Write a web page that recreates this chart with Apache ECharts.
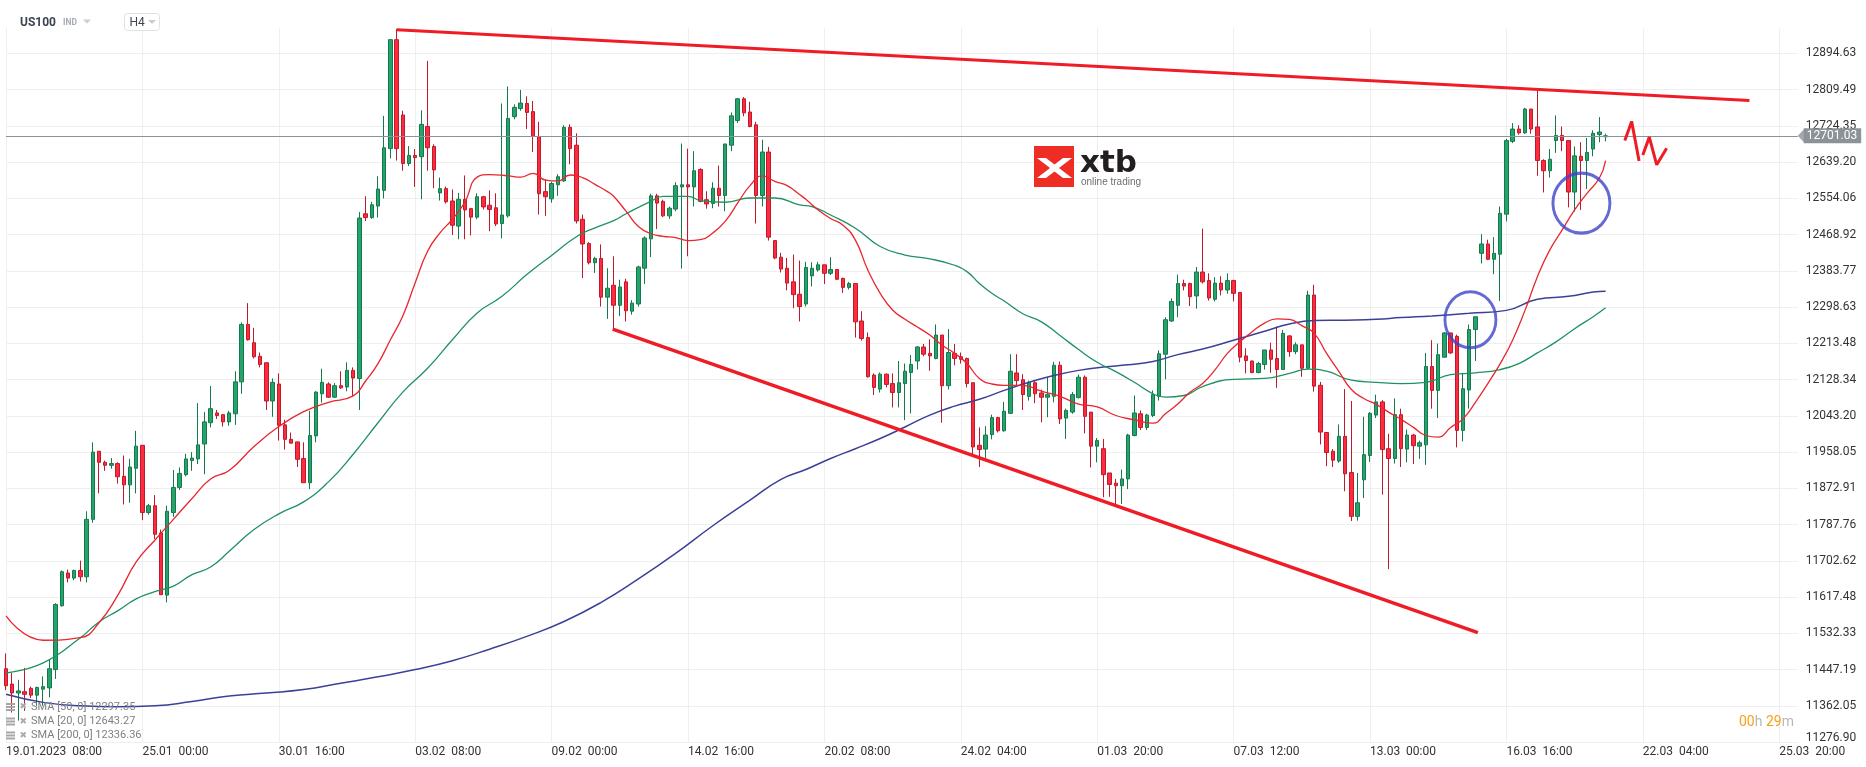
<!DOCTYPE html>
<html><head><meta charset="utf-8">
<script src="https://cdn.jsdelivr.net/npm/echarts@6/dist/echarts.min.js"></script>
<style>html,body{margin:0;padding:0;background:#fff}#c{width:1866px;height:767px}</style>
</head><body><div id="c"></div>
<script>
const symbolName = 'US100';
const lastPrice = 12701.03;
const xTickLabels = ['19.01.2023  08:00','25.01  00:00','30.01  16:00','03.02  08:00','09.02  00:00','14.02  16:00','20.02  08:00','24.02  04:00','01.03  20:00','07.03  12:00','13.03  00:00','16.03  16:00','22.03  04:00','25.03  20:00'];
const yTickLabels = ['11276.90','11362.05','11447.19','11532.33','11617.48','11702.62','11787.76','11872.91','11958.05','12043.20','12128.34','12213.48','12298.63','12383.77','12468.92','12554.06','12639.20','12724.35','12809.49','12894.63'];
const legendRows = ['SMA [50, 0] 12297.35','SMA [20, 0] 12643.27','SMA [200, 0] 12336.36'];
// [open, close, low, high]
const candles = [
[11449,11409,11399,11485],[11413,11392,11346,11439],[11392,11397,11327,11423],[11395,11389,11350,11451],
[11403,11387,11380,11407],[11387,11405,11362,11407],[11401,11407,11362,11431],[11404,11449,11382,11472],
[11447,11600,11425,11603],[11597,11677,11595,11680],[11674,11662,11652,11682],[11662,11680,11657,11682],
[11680,11665,11654,11703],[11665,11800,11652,11819],[11800,11958,11792,11981],[11960,11934,11861,11960],
[11934,11927,11914,11938],[11927,11931,11919,11944],[11931,11900,11884,11934],[11901,11881,11835,11950],
[11881,11923,11839,11942],[11920,11972,11861,12008],[11974,11816,11798,11974],[11816,11832,11811,11836],
[11832,11765,11754,11857],[11768,11623,11623,11776],[11622,11819,11605,11832],[11816,11875,11806,11916],
[11875,11908,11869,11922],[11905,11942,11901,11954],[11938,11944,11914,11958],[11942,11975,11930,12073],
[11977,12029,11906,12052],[12027,12060,12016,12113],[12050,12044,12036,12057],[12046,12029,12018,12046],
[12029,12050,12020,12055],[12048,12123,12022,12148],[12123,12258,12095,12263],[12258,12222,12220,12308],
[12215,12182,12178,12250],[12183,12164,12157,12192],[12168,12078,12057,12168],[12078,12122,12041,12131],
[12118,12021,11985,12143],[12022,11988,11964,12034],[11988,11979,11979,12004],[11982,11941,11923,11982],
[11943,11886,11886,11981],[11886,11997,11871,12055],[11996,12099,11981,12101],[12095,12122,12074,12154],
[12118,12087,12085,12122],[12087,12114,12085,12120],[12114,12109,12106,12148],[12111,12150,12101,12169],
[12150,12132,12089,12157],[12131,12508,12057,12522],[12518,12509,12501,12559],[12509,12539,12506,12546],
[12536,12576,12509,12606],[12573,12673,12554,12748],[12671,12927,12648,12927],[12927,12671,12643,12952],
[12750,12636,12619,12760],[12636,12655,12630,12677],[12655,12650,12581,12670],[12652,12728,12552,12761],
[12723,12673,12619,12877],[12676,12621,12578,12681],[12567,12577,12549,12603],[12577,12546,12542,12582],
[12548,12491,12468,12575],[12489,12552,12458,12567],[12552,12527,12458,12608],[12530,12510,12467,12532],
[12510,12558,12505,12566],[12558,12534,12528,12560],[12538,12528,12477,12573],[12532,12494,12489,12566],
[12495,12515,12460,12777],[12513,12742,12509,12817],[12746,12768,12740,12775],[12765,12778,12760,12809],
[12777,12756,12717,12794],[12758,12701,12663,12783],[12699,12565,12516,12734],[12570,12558,12513,12599],
[12553,12589,12544,12593],[12586,12605,12560,12611],[12595,12721,12593,12726],[12721,12671,12634,12728],
[12679,12501,12495,12707],[12505,12447,12367,12516],[12448,12403,12399,12451],[12403,12413,12379,12417],
[12413,12322,12300,12446],[12322,12343,12271,12390],[12350,12303,12247,12418],[12303,12346,12278,12363],
[12358,12290,12265,12365],[12289,12308,12281,12315],[12306,12393,12300,12396],[12390,12461,12353,12465],
[12459,12560,12416,12565],[12560,12543,12482,12565],[12547,12513,12510,12551],[12513,12531,12506,12535],
[12529,12584,12524,12592],[12581,12586,12389,12683],[12586,12581,12418,12671],[12581,12619,12535,12665],
[12622,12547,12545,12625],[12551,12541,12530,12571],[12542,12578,12531,12592],[12578,12561,12535,12631],
[12561,12682,12524,12682],[12679,12748,12665,12756],[12737,12788,12731,12790],[12788,12755,12747,12792],
[12757,12723,12721,12781],[12727,12561,12495,12734],[12561,12663,12535,12692],[12663,12463,12455,12675],
[12455,12414,12411,12455],[12416,12388,12380,12426],[12390,12355,12338,12414],[12358,12328,12296,12422],
[12329,12300,12265,12408],[12306,12392,12300,12405],[12372,12390,12347,12404],[12386,12398,12382,12405],
[12398,12378,12353,12398],[12378,12387,12374,12416],[12387,12364,12362,12387],[12366,12345,12332,12368],
[12345,12354,12340,12358],[12354,12264,12227,12354],[12266,12225,12220,12289],[12227,12135,12133,12239],
[12139,12110,12092,12143],[12106,12141,12098,12145],[12141,12117,12110,12143],[12119,12098,12063,12143],
[12098,12121,12063,12172],[12119,12148,12033,12166],[12145,12164,12049,12186],[12172,12205,12152,12207],
[12205,12188,12183,12212],[12190,12184,12149,12223],[12178,12233,12176,12258],[12233,12114,12027,12233],
[12114,12192,12105,12247],[12190,12178,12162,12212],[12182,12176,12166,12192],[12178,12119,12110,12180],
[12121,11970,11953,12121],[11974,11964,11923,12016],[11965,11998,11943,12019],[11999,12039,11988,12046],
[12039,12008,12004,12041],[12008,12054,12006,12076],[12049,12148,12048,12188],[12144,12126,12115,12188],
[12128,12093,12057,12141],[12089,12121,12079,12126],[12121,12095,12073,12126],[12097,12087,12028,12105],
[12087,12093,12040,12134],[12089,12162,12075,12170],[12162,12036,12024,12171],[12038,12056,11989,12060],
[12052,12093,12048,12099],[12086,12134,12084,12140],[12134,12042,12002,12138],[12052,11972,11922,12052],
[11972,11985,11934,11991],[11966,11905,11852,11989],[11909,11882,11853,11909],[11885,11879,11834,11895],
[11879,11895,11836,11917],[11895,11998,11871,12001],[11997,12050,11995,12091],[12048,12016,12010,12056],
[12016,12045,12010,12048],[12044,12093,12040,12103],[12089,12189,12079,12197],[12188,12269,12129,12275],
[12266,12312,12264,12319],[12303,12354,12275,12375],[12354,12348,12338,12363],[12354,12323,12301,12356],
[12325,12381,12295,12393],[12381,12358,12354,12483],[12361,12320,12314,12378],[12317,12355,12312,12369],
[12355,12339,12326,12371],[12339,12361,12330,12378],[12361,12331,12312,12363],[12333,12181,12169,12333],
[12184,12173,12143,12202],[12172,12145,12143,12173],[12145,12166,12143,12170],[12164,12198,12152,12198],
[12198,12176,12144,12215],[12178,12152,12109,12253],[12152,12237,12151,12245],[12231,12194,12182,12233],
[12194,12210,12188,12216],[12210,12155,12135,12210],[12155,12327,12153,12337],[12327,12113,12100,12351],
[12115,12005,11976,12123],[12004,11957,11925,12005],[11960,11939,11923,11965],[11937,11995,11933,12023],
[11995,11907,11866,12106],[11910,11807,11796,12078],[11807,11839,11797,11909],[11893,11952,11850,12041],
[11950,12049,11935,12052],[12045,12076,12038,12093],[12076,11964,11858,12080],[11966,11943,11683,12001],
[11943,12046,11931,12084],[12046,11966,11923,12060],[11965,11998,11934,12011],[11998,11973,11930,12001],
[11972,11980,11942,11985],[11975,12159,11928,12191],[12159,12103,12060,12221],[12103,12187,12038,12213],
[12181,12238,12180,12240],[12238,12191,12189,12238],[12230,12009,11969,12234],[12009,12107,11983,12144],
[12104,12246,12060,12258],[12246,12276,12172,12276],[12425,12447,12401,12470],[12447,12411,12409,12457],
[12411,12425,12376,12463],[12423,12519,12313,12535],[12517,12690,12500,12694],[12688,12717,12684,12731],
[12717,12708,12704,12726],[12708,12764,12706,12767],[12764,12717,12706,12764],[12722,12643,12607,12808],
[12643,12619,12568,12646],[12619,12646,12603,12670],[12690,12702,12661,12749],[12702,12690,12665,12723],
[12690,12569,12533,12690],[12569,12654,12523,12676],[12653,12643,12527,12686],[12643,12662,12576,12696],
[12670,12707,12653,12714],[12704,12710,12686,12745],[12699,12701.03,12688,12706]
];
// SMA lines: [candle index, value]
const sma20 = [[0,11573],[6,11516],[12,11522],[15,11557],[18,11621],[21,11700],[24,11751],[27,11800],[30,11849],[33,11895],[36,11915],[40,11971],[44,12018],[48,12053],[52,12075],[56,12090],[58,12125],[60,12166],[62,12222],[64,12278],[66,12356],[68,12430],[70,12473],[72,12505],[74,12545],[76,12604],[78,12610],[81,12607],[83,12604],[85,12613],[87,12597],[89,12595],[91,12609],[93,12603],[95,12587],[97,12570],[98,12559],[100,12524],[102,12488],[104,12471],[106,12465],[108,12462],[110,12455],[112,12457],[114,12473],[116,12500],[118,12543],[120,12584],[122,12607],[124,12594],[126,12584],[128,12563],[129,12552],[131,12527],[133,12507],[135,12491],[137,12456],[139,12386],[141,12331],[143,12292],[145,12270],[147,12252],[149,12233],[151,12209],[153,12190],[155,12166],[157,12131],[159,12118],[161,12115],[164,12115],[167,12101],[170,12089],[173,12071],[176,12064],[179,12044],[182,12034],[185,12026],[187,12048],[189,12071],[191,12099],[193,12119],[195,12151],[197,12190],[199,12217],[201,12241],[203,12261],[205,12271],[207,12270],[209,12255],[211,12237],[213,12190],[215,12147],[217,12105],[219,12084],[221,12070],[223,12052],[225,12035],[227,12016],[229,11997],[231,11993],[233,12016],[235,12036],[237,12075],[239,12119],[241,12166],[243,12221],[245,12291],[247,12370],[249,12433],[251,12480],[253,12527],[255,12566],[257,12602],[258,12643]];
const sma50 = [[0,11439],[6,11463],[12,11522],[15,11559],[18,11585],[21,11613],[24,11630],[27,11643],[30,11670],[33,11688],[36,11725],[40,11776],[44,11813],[48,11841],[52,11888],[56,11953],[60,12027],[64,12099],[68,12155],[72,12222],[76,12285],[80,12324],[84,12375],[88,12420],[92,12464],[95,12485],[98,12502],[100,12518],[104,12547],[106,12559],[110,12559],[112,12549],[116,12545],[120,12555],[124,12555],[128,12539],[130,12535],[133,12515],[137,12484],[141,12441],[145,12421],[149,12412],[153,12397],[155,12382],[157,12354],[159,12331],[161,12313],[164,12283],[167,12264],[170,12232],[173,12199],[176,12169],[179,12147],[182,12122],[185,12095],[187,12087],[190,12091],[193,12112],[198,12129],[203,12131],[207,12143],[210,12153],[213,12148],[217,12127],[221,12122],[225,12119],[229,12122],[233,12140],[237,12144],[241,12152],[244,12166],[247,12191],[250,12217],[253,12248],[256,12276],[258,12297]];
const sma200 = [[0,11389],[6,11370],[12,11362],[18,11360],[24,11362],[30,11372],[36,11385],[42,11392],[48,11400],[54,11415],[60,11430],[66,11447],[72,11468],[78,11495],[84,11525],[90,11560],[96,11605],[102,11660],[108,11720],[114,11785],[120,11845],[125,11894],[129,11917],[133,11943],[137,11966],[141,11990],[145,12017],[149,12045],[153,12066],[157,12082],[161,12103],[165,12122],[169,12138],[173,12150],[177,12158],[181,12163],[185,12171],[189,12187],[193,12200],[198,12221],[203,12242],[207,12259],[211,12267],[216,12268],[221,12270],[225,12274],[230,12278],[236,12284],[242,12291],[247,12317],[252,12324],[256,12334],[258,12336]];
// hand-drawn annotations, in [candle index, price]
const resistance = [[63,12950],[281.2,12784]];
const support = [[97.85,12247],[237.4,11534]];
const circles = [[236.2,12269],[254.1,12543]];
const circleSizes = [[51,56],[57,60]];
const zigzagA = [[261.1,12690],[262.2,12735],[263.4,12642]];
const zigzagB = [[264.0,12656],[265.05,12698],[266.24,12633],[267.85,12672]];

const N_CAT = 290;
const categories = Array.from({length: N_CAT}, (_, i) => String(i));
const Y_MIN = 11276.90, Y_STEP = 85.1437, Y_MAX = 12954.4;

const chart = echarts.init(document.getElementById('c'), null, {renderer: 'canvas'});

const upFill = '#26a36c', upLine = '#147a4c', dnFill = '#fd2b3d', dnLine = '#bf1a2c';

const legendGraphics = [];
const rowY = [707, 721.5, 735.5];
legendRows.forEach((t, k) => {
  const y = rowY[k];
  [ -4, -1, 2 ].forEach(d => legendGraphics.push({type:'rect', shape:{x:6, y:y + d, width:9, height:2}, style:{fill:'#a6a6a6'}, silent:true, z:100}));
  legendGraphics.push({type:'text', x:19.5, y:y, style:{text:'\u2716', font:'9px "DejaVu Sans"', fill:'#ababab', verticalAlign:'middle', textVerticalAlign:'middle'}, silent:true, z:100});
  legendGraphics.push({type:'text', x:31, y:y, style:{text:t, font:'11px Roboto', fill:'#808080', verticalAlign:'middle', textVerticalAlign:'middle'}, silent:true, z:100});
});

const smaLine = (name, data, color, width) => ({
  type: 'line', name, xAxisIndex: 1, yAxisIndex: 0, data, showSymbol: false, smooth: 0.5, z: 3,
  lineStyle: {color, width}, silent: true
});

const option = {
  animation: false,
  backgroundColor: '#ffffff',
  textStyle: {fontFamily: 'Roboto'},
  grid: {left: 6, right: 68.2, top: 28, bottom: 25, containLabel: false},
  xAxis: [
    {type: 'category', data: categories, boundaryGap: false,
     axisLine: {show: false}, axisTick: {show: false},
     axisLabel: {interval: 21, align: 'left', margin: 4, color: '#333', fontSize: 12, fontFamily: 'Roboto',
       formatter: (v, i) => xTickLabels[i / 22] || ''},
     splitLine: {show: true, interval: 21, lineStyle: {color: '#efefef', width: 1}}},
    {type: 'value', min: 0, max: N_CAT - 1, show: false}
  ],
  yAxis: [
    {type: 'value', min: Y_MIN, max: Y_MAX, show: false},
    {type: 'value', min: 0, max: (Y_MAX - Y_MIN) / Y_STEP, interval: 1, position: 'right',
     axisLine: {show: false}, axisTick: {show: false},
     axisLabel: {margin: 8, color: '#333', fontSize: 12, fontFamily: 'Roboto',
       formatter: v => { const k = Math.round(v); if (Math.abs(v - k) > 1e-6) return ''; const t = yTickLabels[k]; if (!t) return ''; return k === 0 ? '{b|' + t + '}' : t; },
       rich: {b: {padding: [0, 0, 8, 0], fontSize: 12, color: '#333', fontFamily: 'Roboto'}}},
     splitLine: {show: true, showMaxLine: false, lineStyle: {color: '#efefef', width: 1}}}
  ],
  series: [
    {type: 'candlestick', name: symbolName, xAxisIndex: 0, yAxisIndex: 0, data: candles, barWidth: 4, clip: false, z: 2,
     itemStyle: {color: upFill, color0: dnFill, borderColor: upLine, borderColor0: dnLine, borderWidth: 1},
     markLine: {silent: true, symbol: ['none', 'none'], animation: false,
       lineStyle: {color: '#8b9298', width: 1, type: 'solid'},
       label: {show: true, position: 'end', distance: 6, formatter: lastPrice.toFixed(2), color: '#fff', backgroundColor: '#8b9298',
         padding: [2, 4, 1, 3], fontSize: 12, fontFamily: 'Roboto'},
       emphasis: {disabled: true},
       data: [{yAxis: lastPrice}]}},
    smaLine('SMA200', sma200, '#3c4096', 1.5),
    smaLine('SMA50', sma50, '#1f9161', 1.3),
    smaLine('SMA20', sma20, '#e8262f', 1.3),
    {type: 'line', name: 'resistance', xAxisIndex: 1, yAxisIndex: 0, data: resistance, showSymbol: false, clip: false, z: 5,
     lineStyle: {color: '#ef1c26', width: 3}, silent: true},
    {type: 'line', name: 'support', xAxisIndex: 1, yAxisIndex: 0, data: support, showSymbol: false, clip: false, z: 5,
     lineStyle: {color: '#ef1c26', width: 3.5}, silent: true},
    {type: 'line', name: 'zigA', xAxisIndex: 1, yAxisIndex: 0, data: zigzagA, showSymbol: false, clip: false, z: 5,
     lineStyle: {color: '#ef1c26', width: 3}, silent: true},
    {type: 'line', name: 'zigB', xAxisIndex: 1, yAxisIndex: 0, data: zigzagB, showSymbol: false, clip: false, z: 5,
     lineStyle: {color: '#ef1c26', width: 3}, silent: true},
    {type: 'scatter', name: 'circles', xAxisIndex: 1, yAxisIndex: 0, clip: false, z: 6, silent: true, symbol: 'circle',
     data: circles.map((c, k) => ({value: c, symbolSize: circleSizes[k]})),
     itemStyle: {color: 'rgba(0,0,0,0)', borderColor: '#3d44c8', borderWidth: 3}},
    {type: 'scatter', name: 'tag', xAxisIndex: 1, yAxisIndex: 0, clip: false, z: 6, silent: true,
     symbol: 'path://M0,7.5 L7,0 L7,15 Z', symbolSize: [7, 15], symbolOffset: [3.5, 0],
     data: [[N_CAT - 1, lastPrice]], itemStyle: {color: '#8b9298'}}
  ],
  graphic: [
    {type: 'text', x: 20, y: 23, z: 100, silent: true, style: {text: symbolName, font: 'bold 12px Roboto', fill: '#3b4450', verticalAlign: 'middle', textVerticalAlign: 'middle'}},
    {type: 'text', x: 63, y: 23, z: 100, silent: true, style: {text: 'IND', font: 'bold 8.5px Roboto', fill: '#a3abb3', verticalAlign: 'middle', textVerticalAlign: 'middle'}},
    {type: 'polygon', z: 100, silent: true, shape: {points: [[83, 19.5], [91, 19.5], [87, 23.5]]}, style: {fill: '#c9cdd1'}},
    {type: 'rect', z: 100, silent: true, shape: {x: 124.5, y: 13.5, width: 35, height: 17, r: 3}, style: {fill: '#fff', stroke: '#dfe2e5', lineWidth: 1}},
    {type: 'text', x: 129.5, y: 22.5, z: 101, silent: true, style: {text: 'H4', font: '12px Roboto', fill: '#3b4450', verticalAlign: 'middle', textVerticalAlign: 'middle'}},
    {type: 'polygon', z: 101, silent: true, shape: {points: [[148, 20], [156, 20], [152, 24]]}, style: {fill: '#c9cdd1'}},
    {type: 'rect', z: 50, silent: true, shape: {x: 1034, y: 146, width: 40, height: 41}, style: {fill: '#ee2d24'}},
    {type: 'polygon', z: 51, silent: true, shape: {points: [[1037, 158], [1046, 158], [1072, 178], [1063, 178]]}, style: {fill: '#fff'}},
    {type: 'polygon', z: 51, silent: true, shape: {points: [[1037, 178], [1046, 178], [1072, 158], [1063, 158]]}, style: {fill: '#fff'}},
    {type: 'text', x: 1080, y: 164, z: 50, silent: true, style: {text: 'xtb', font: 'bold 31px "DejaVu Sans"', fill: '#231f20', verticalAlign: 'middle', textVerticalAlign: 'middle'}},
    {type: 'text', x: 1081, y: 182, z: 50, silent: true, style: {text: 'online trading', font: '10px "Liberation Sans"', fill: '#6d6e71', verticalAlign: 'middle', textVerticalAlign: 'middle'}},
    {type: 'text', x: 1739, y: 722, z: 100, silent: true, style: {text: '{o|00}{g|h} {o|29}{g|m}', font: '14px Roboto', verticalAlign: 'middle', textVerticalAlign: 'middle',
      rich: {o: {fill: '#f5a11c', color: '#f5a11c', fontSize: 14, fontFamily: 'Roboto'}, g: {fill: '#b8b8b8', color: '#b8b8b8', fontSize: 14, fontFamily: 'Roboto'}}}},
    ...legendGraphics
  ]
};
chart.setOption(option);
</script>
</body></html>
